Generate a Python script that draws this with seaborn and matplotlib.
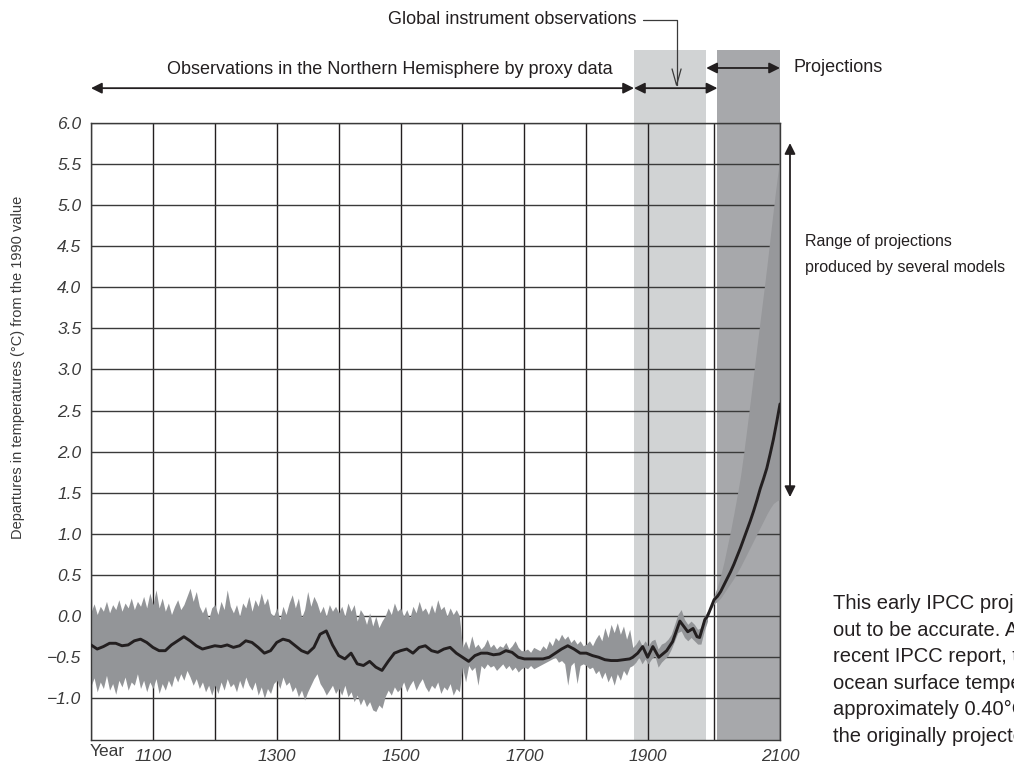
# IPCC early projection chart (temperature departures from 1990 value)

import numpy as np
import pandas as pd
import matplotlib
matplotlib.use('Agg')
import matplotlib.pyplot as plt
import seaborn as sns

# ---- data ----
proxy_years = list(range(1000, 1871, 10))
proxy_mean = [
    -0.35, -0.40, -0.37, -0.33, -0.33, -0.36, -0.35, -0.30, -0.28, -0.32,
    -0.38, -0.42, -0.42, -0.35, -0.30, -0.25, -0.30, -0.36, -0.40, -0.38,
    -0.36, -0.37, -0.35, -0.38, -0.36, -0.30, -0.32, -0.38, -0.45, -0.42,
    -0.32, -0.28, -0.30, -0.36, -0.42, -0.45, -0.38, -0.22, -0.18, -0.35,
    -0.48, -0.52, -0.45, -0.58, -0.60, -0.55, -0.62, -0.66, -0.55, -0.45,
    -0.42, -0.40, -0.45, -0.38, -0.36, -0.42, -0.44, -0.40, -0.38, -0.45,
    -0.50, -0.55, -0.48, -0.45, -0.45, -0.47, -0.46, -0.42, -0.44, -0.50,
    -0.52, -0.52, -0.52, -0.52, -0.50, -0.45, -0.40, -0.36, -0.40, -0.45,
    -0.45, -0.48, -0.50, -0.53, -0.54, -0.54, -0.53, -0.52,
]

inst_years = [1875, 1883, 1891, 1899, 1907, 1916, 1928, 1937, 1948, 1960, 1968, 1974, 1978, 1986, 1990]
inst_mean = [-0.50, -0.45, -0.37, -0.50, -0.37, -0.50, -0.42, -0.31, -0.06, -0.19, -0.15, -0.25, -0.26, -0.04, 0.00]

proj_years = [1990, 1995, 2000, 2005, 2010, 2015, 2020, 2025, 2030, 2035, 2040, 2045,
              2050, 2055, 2060, 2065, 2070, 2075, 2080, 2085, 2090, 2095, 2100]
proj_mean = [0.00, 0.10, 0.20, 0.24, 0.30, 0.38, 0.46, 0.54, 0.63, 0.73, 0.83, 0.94,
             1.05, 1.16, 1.28, 1.41, 1.55, 1.67, 1.80, 1.97, 2.15, 2.36, 2.58]
proj_hi = [0.00, 0.12, 0.25, 0.36, 0.50, 0.66, 0.85, 1.04, 1.25, 1.47, 1.70, 1.99,
           2.30, 2.62, 2.95, 3.28, 3.60, 3.92, 4.25, 4.60, 4.95, 5.28, 5.60]
proj_lo = [0.00, 0.08, 0.15, 0.18, 0.22, 0.28, 0.34, 0.40, 0.46, 0.53, 0.60, 0.68,
           0.76, 0.84, 0.92, 1.00, 1.08, 1.16, 1.24, 1.31, 1.37, 1.40, 1.42]

# uncertainty band of the observations, every 5 years 1000-1990
band_years = list(range(1000, 1991, 5))
band_hi = [
    0.05, 0.15, 0.02, 0.12, 0.06, 0.18, 0.04, 0.14, 0.08, 0.20, 0.06, 0.16, 0.10, 0.22, 0.08, 0.18, 0.12, 0.24, 0.10, 0.28,
    0.14, 0.32, 0.10, 0.22, 0.06, 0.16, 0.02, 0.12, 0.20, 0.08, 0.14, 0.24, 0.34, 0.18, 0.30, 0.12, 0.04, 0.12, -0.04, 0.10,
    0.14, 0.02, 0.18, 0.08, 0.32, 0.12, 0.04, 0.14, 0.00, 0.16, 0.10, 0.24, 0.06, 0.20, 0.12, 0.28, 0.14, 0.22, 0.04, 0.00,
    0.10, -0.04, 0.12, 0.02, 0.16, 0.26, 0.10, 0.22, -0.02, 0.08, 0.30, 0.12, 0.24, 0.16, 0.04, 0.12, 0.00, 0.14, 0.06, 0.12,
    0.04, 0.12, 0.00, 0.16, 0.06, 0.14, -0.06, 0.08, 0.02, -0.10, 0.04, -0.12, 0.00, -0.14, -0.06, 0.00, 0.10, 0.02, 0.16, 0.06,
    0.10, 0.00, 0.08, -0.02, 0.12, 0.04, 0.18, 0.06, 0.10, 0.02, 0.14, 0.04, 0.20, 0.08, 0.12, 0.00, 0.10, 0.02, 0.08, 0.00,
    -0.38, -0.30, -0.40, -0.24, -0.38, -0.34, -0.40, -0.36, -0.28, -0.38, -0.34, -0.40, -0.36, -0.38, -0.32, -0.40, -0.36, -0.30, -0.38, -0.42,
    -0.42, -0.40, -0.44, -0.38, -0.40, -0.42, -0.36, -0.40, -0.30, -0.36, -0.26, -0.30, -0.22, -0.28, -0.24, -0.32, -0.28, -0.34, -0.30, -0.36,
    -0.34, -0.30, -0.36, -0.28, -0.22, -0.30, -0.14, -0.26, -0.10, -0.20, -0.08, -0.22, -0.12, -0.28, -0.16, -0.38, -0.34, -0.28, -0.36, -0.30,
    -0.36, -0.30, -0.28, -0.40, -0.34, -0.32, -0.28, -0.22, -0.10, 0.02, 0.08, -0.04, -0.10, -0.06, -0.10, -0.16, -0.14, 0.00, 0.06,
]
band_lo = [
    -0.85, -0.75, -0.92, -0.80, -0.88, -0.72, -0.90, -0.82, -0.95, -0.78, -0.86, -0.74, -0.90, -0.80, -0.84, -0.70, -0.88, -0.78, -0.92, -0.80,
    -0.88, -0.76, -0.94, -0.82, -0.90, -0.78, -0.86, -0.72, -0.80, -0.70, -0.78, -0.66, -0.74, -0.84, -0.76, -0.88, -0.80, -0.92, -0.84, -0.96,
    -0.84, -0.94, -0.80, -0.90, -0.76, -0.86, -0.82, -0.92, -0.78, -0.88, -0.74, -0.84, -0.90, -0.80, -0.96, -0.86, -1.00, -0.88, -0.94, -0.82,
    -0.78, -0.88, -0.74, -0.84, -0.80, -0.92, -0.86, -0.98, -0.90, -1.02, -0.92, -0.84, -0.76, -0.70, -0.82, -0.88, -0.96, -0.90, -0.84, -0.94,
    -0.88, -0.96, -0.84, -0.98, -0.92, -1.04, -0.96, -1.08, -1.00, -1.10, -1.04, -1.14, -1.16, -1.08, -1.12, -0.98, -0.90, -0.96, -0.86, -0.92,
    -0.88, -0.80, -0.92, -0.84, -0.78, -0.90, -0.82, -0.76, -0.86, -0.92, -0.84, -0.88, -0.80, -0.94, -0.86, -0.90, -0.82, -0.96, -0.88, -0.92,
    -0.62, -0.80, -0.60, -0.66, -0.62, -0.84, -0.60, -0.64, -0.58, -0.62, -0.60, -0.66, -0.62, -0.58, -0.64, -0.60, -0.66, -0.62, -0.68, -0.64,
    -0.62, -0.64, -0.60, -0.64, -0.62, -0.60, -0.58, -0.56, -0.54, -0.52, -0.50, -0.56, -0.54, -0.58, -0.84, -0.60, -0.56, -0.82, -0.60, -0.58,
    -0.60, -0.64, -0.62, -0.70, -0.66, -0.76, -0.68, -0.80, -0.72, -0.84, -0.70, -0.78, -0.66, -0.72, -0.62, -0.60, -0.56, -0.50, -0.58, -0.52,
    -0.58, -0.52, -0.48, -0.62, -0.56, -0.52, -0.48, -0.40, -0.30, -0.20, -0.18, -0.26, -0.30, -0.26, -0.30, -0.34, -0.34, -0.18, -0.06,
]

y_ticks = [-1.0, -0.5, 0.0, 0.5, 1.0, 1.5, 2.0, 2.5, 3.0, 3.5, 4.0, 4.5, 5.0, 5.5, 6.0]
x_label_years = [1100, 1300, 1500, 1700, 1900, 2100]
x_grid_years = list(range(1000, 2101, 100))

instrument_span = (1877, 1988)
projection_span = (2005, 2100)

line_df = pd.DataFrame({
    'year': proxy_years + inst_years + proj_years[1:],
    'temp': proxy_mean + inst_mean + proj_mean[1:],
})

# ---- style ----
sns.set_theme(style='white')
plt.rcParams['font.family'] = ['Liberation Sans', 'DejaVu Sans']
ink = '#231f20'
soft = '#3a3a3a'

fig = plt.figure(figsize=(10.14, 7.68), dpi=100)
ax = fig.add_axes([91 / 1014, 1 - 739.5 / 768, 689 / 1014, 616.8 / 768])

# later centuries are drawn a bit wider in the original
k = 1.064
ax.set_xscale('function', functions=(
    lambda x: np.where(x <= 1900, x, 1900 + (x - 1900) * k),
    lambda x: np.where(x <= 1900, x, 1900 + (x - 1900) / k)))

ax.axvspan(*instrument_span, ymin=0, ymax=1.118, color='#d1d3d4', lw=0, zorder=0, clip_on=False)
ax.axvspan(*projection_span, ymin=0, ymax=1.118, color='#a7a8ab', lw=0, zorder=0, clip_on=False)

ax.fill_between(band_years, band_lo, band_hi, color='#939598', lw=0, zorder=2)
ax.fill_between(proj_years, proj_lo, proj_hi, color='#97989b', lw=0, zorder=2)
sns.lineplot(data=line_df, x='year', y='temp', color=ink, lw=2.1, ax=ax, zorder=3)

ax.set_xlim(1000, 2100)
ax.set_ylim(-1.5, 6.0)
ax.set_xlabel('')
ax.set_ylabel('')

ax.set_yticks(y_ticks)
ax.set_yticklabels([f'{v:.1f}'.replace('-', '\u2212') for v in y_ticks])
ax.set_xticks(x_label_years)
ax.set_xticklabels([str(v) for v in x_label_years])
ax.set_xticks(x_grid_years, minor=True)
ax.tick_params(length=0, pad=7, labelsize=12.5, labelcolor=soft)
for lab in ax.get_xticklabels() + ax.get_yticklabels():
    lab.set_style('italic')

ax.grid(True, axis='y', color=soft, lw=1.0)
ax.grid(True, axis='x', which='both', color=ink, lw=1.0)
ax.set_axisbelow(True)
for sp in ax.spines.values():
    sp.set_color(soft)
    sp.set_linewidth(1.0)

# ---- annotations ----
fs = 13
fig.text(18 / 1014, 1 - 367 / 768, 'Departures in temperatures (\u00b0C) from the 1990 value',
         rotation=90, ha='center', va='center', fontsize=10.5, color=soft)
fig.text(90 / 1014, 1 - 752 / 768, 'Year', ha='left', va='center', fontsize=12.5, color=soft)

xt = ax.get_xaxis_transform()
arrow = dict(arrowstyle='<|-|>', color=ink, lw=1.3, mutation_scale=16, shrinkA=0, shrinkB=0)
ax.annotate('', xy=(1000, 1.056), xytext=(1877, 1.056), xycoords=xt, textcoords=xt, arrowprops=arrow)
ax.annotate('', xy=(1877, 1.056), xytext=(2005, 1.056), xycoords=xt, textcoords=xt, arrowprops=arrow)
ax.annotate('', xy=(1988, 1.0887), xytext=(2100, 1.0887), xycoords=xt, textcoords=xt, arrowprops=arrow)
ax.text(1483, 1.0855, 'Observations in the Northern Hemisphere by proxy data', transform=xt,
        ha='center', va='center', fontsize=fs, color=ink)
ax.text(1.019, 1.0887, 'Projections', transform=ax.transAxes, ha='left', va='center', fontsize=fs, color=ink)

ax.annotate('Global instrument observations', xy=(1943, 1.057), xytext=(636 / 1014, 1 - 20 / 768),
            xycoords=xt, textcoords='figure fraction', ha='right', va='center', fontsize=fs, color=ink,
            arrowprops=dict(arrowstyle='->,head_length=0.9,head_width=0.25', color=soft, lw=0.9,
                            connectionstyle='angle,angleA=0,angleB=90,rad=0', shrinkA=3, shrinkB=0))

ax.annotate('', xy=(1.0145, 0.967), xytext=(1.0145, 0.393), xycoords=ax.transAxes,
            textcoords=ax.transAxes, arrowprops=arrow)
ax.text(1.036, 0.786, 'Range of projections\nproduced by several models', transform=ax.transAxes,
        ha='left', va='center', fontsize=11.5, color=ink, linespacing=1.9)

# the reference is a crop: this note runs off its right edge
note = ('This early IPCC projection turned\n'
        'out to be accurate. According to the most\n'
        'recent IPCC report, the average air and\n'
        'ocean surface temperature rose by\n'
        'approximately 0.40\u00b0C since 1990, within\n'
        'the originally projected range.')
fig.text(833 / 1014, 1 - 670 / 768, note, ha='left', va='center', fontsize=14.5, color=ink, linespacing=1.5)

fig.savefig('out.png', dpi=100)
